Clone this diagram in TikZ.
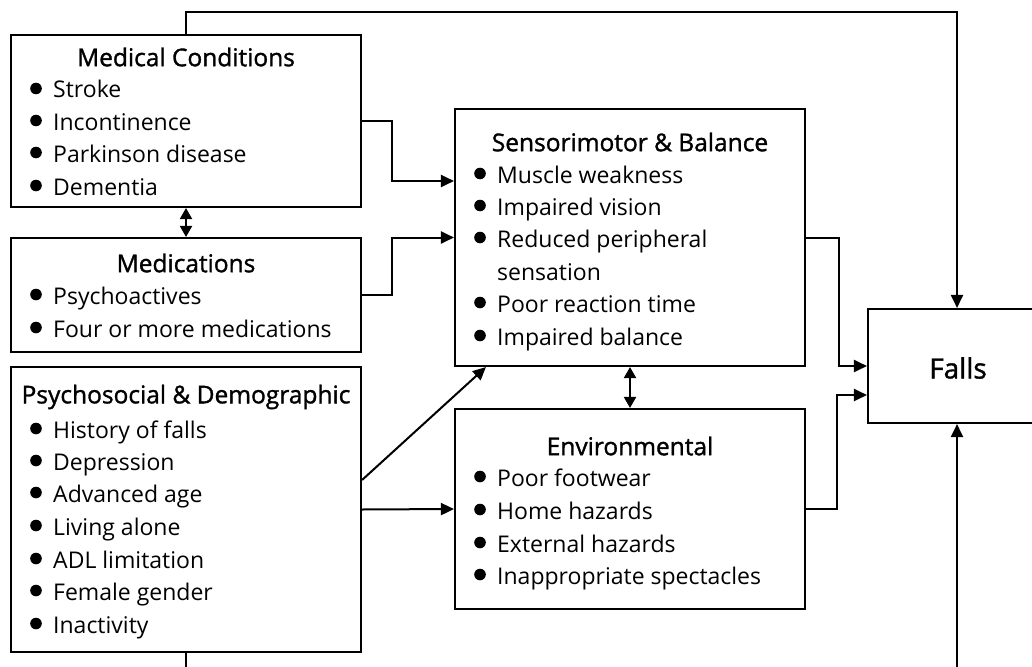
\documentclass[tikz,border=0pt]{standalone}
\usepackage{fontspec}
\usetikzlibrary{arrows.meta}
\newfontfamily\labelfont{Open Sans}
\newfontfamily\titlefont{Open Sans}[FakeBold=1.3]
\begin{document}
\begin{tikzpicture}[x=1pt,y=-1pt,
  box/.style={draw,line width=2.1pt,inner sep=0pt},
  ttl/.style={font=\titlefont\fontsize{24.5}{27}\selectfont,inner sep=0pt},
  itm/.style={font=\labelfont\fontsize{23}{26}\selectfont,inner sep=0pt},
  conn/.style={line width=2pt,-{Triangle[length=13pt,width=12pt]}},
  both/.style={line width=2pt,{Triangle[length=11pt,width=12pt]}-{Triangle[length=11pt,width=12pt]}}]
\newcommand{\bitem}[4]{%
  \fill (#2-17,#3-1.5) circle[radius=5.8pt];
  \node[itm,anchor=base west] (#1) at (#2,#3+8) {#4};}
\useasboundingbox (0,0) rectangle (1032,666);
\clip (0,0) rectangle (1032,666);
% boxes
\node[box,minimum width=350pt,minimum height=172pt] (med)  at (186,121) {};
\node[box,minimum width=350pt,minimum height=114pt] (meds) at (186,295) {};
\node[box,minimum width=350pt,minimum height=285pt] (psy)  at (186,509.5) {};
\node[box,minimum width=350pt,minimum height=257pt] (sens) at (630,237.5) {};
\node[box,minimum width=350pt,minimum height=200pt] (env)  at (630,509) {};
\node[box,minimum width=178pt,minimum height=114pt] (falls) at (957,366) {};
% Medical conditions
\node[ttl] (medt) at (186,57) {Medical Conditions};
\bitem{m1}{53}{90}{Stroke}
\bitem{m2}{53}{122}{Incontinence}
\bitem{m3}{53}{154}{Parkinson disease}
\bitem{m4}{53}{187}{Dementia}
% Medications
\node[ttl] (medst) at (186,263) {Medications};
\bitem{d1}{53}{296}{Psychoactives}
\bitem{d2}{53}{329}{Four or more medications}
% Psychosocial & demographic
\node[ttl] (psyt) at (186,397) {Psychosocial \& Demographic};
\bitem{p1}{53}{430}{History of falls}
\bitem{p2}{53}{462}{Depression}
\bitem{p3}{53}{494}{Advanced age}
\bitem{p4}{53}{527}{Living alone}
\bitem{p5}{53}{560}{ADL limitation}
\bitem{p6}{53}{592}{Female gender}
\bitem{p7}{53}{625}{Inactivity}
% Sensorimotor & balance
\node[ttl] (senst) at (630,142) {Sensorimotor \& Balance};
\bitem{s1}{497}{175}{Muscle weakness}
\bitem{s2}{497}{207}{Impaired vision}
\bitem{s3}{497}{239}{Reduced peripheral}
\node[itm,anchor=base west] (s3b) at (497,280) {sensation};
\bitem{s4}{497}{304}{Poor reaction time}
\bitem{s5}{497}{337}{Impaired balance}
% Environmental
\node[ttl] (envt) at (630,446) {Environmental};
\bitem{e1}{497}{478}{Poor footwear}
\bitem{e2}{497}{511}{Home hazards}
\bitem{e3}{497}{544}{External hazards}
\bitem{e4}{497}{576}{Inappropriate spectacles}
% Falls
\node[ttl,font=\titlefont\fontsize{28}{30}\selectfont] (fallst) at (958,368) {Falls};
% connectors
\draw[conn] (med.north) -- ++(0,-22) -| (falls.north);
\draw[conn] (med.east) -- ++(30,0) |- ([yshift=56.5pt]sens.west);
\draw[conn] (meds.east) -- ++(30,0) |- (sens.west);
\draw[conn] ([yshift=29.5pt]psy.east) -- ([xshift=32pt]sens.south west);
\draw[conn] (psy.east) -- (env.west);
\draw[both] (med.south) -- (meds.north);
\draw[both] (sens.south) -- (env.north);
\draw[conn] (sens.east) -- ++(33,0) |- (falls.west);
\draw[conn] (env.east) -- ++(31,0) |- ([yshift=-29pt]falls.west);
\draw[conn] (psy.south) -- ++(0,40) -| (falls.south);
\end{tikzpicture}
\end{document}
